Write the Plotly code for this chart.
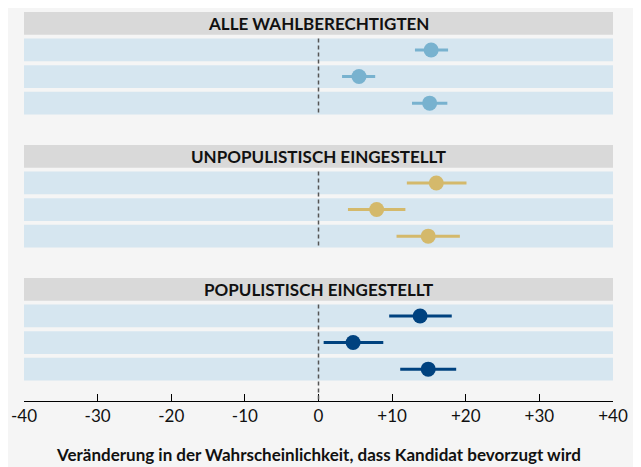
import plotly.graph_objects as go

# Veränderung in der Wahrscheinlichkeit (Prozentpunkte), Punkt + Konfidenzintervall
groups = ['ALLE WAHLBERECHTIGTEN', 'UNPOPULISTISCH EINGESTELLT', 'POPULISTISCH EINGESTELLT']
group_colors = ['#78b2cf', '#d4b96b', '#00427f']

alle_est = [15.3, 5.5, 15.1]
alle_lo = [13.1, 3.2, 12.7]
alle_hi = [17.6, 7.7, 17.5]

unpop_est = [16.0, 7.9, 14.9]
unpop_lo = [12.0, 4.0, 10.6]
unpop_hi = [20.1, 11.8, 19.2]

pop_est = [13.8, 4.7, 14.9]
pop_lo = [9.6, 0.7, 11.1]
pop_hi = [18.1, 8.8, 18.7]

tick_vals = [-40, -30, -20, -10, 0, 10, 20, 30, 40]
tick_text = ['-40', '-30', '-20', '-10', '0', '+10', '+20', '+30', '+40']

series = [
    (alle_est, alle_lo, alle_hi),
    (unpop_est, unpop_lo, unpop_hi),
    (pop_est, pop_lo, pop_hi),
]

BG = '#f5f5f5'
BAND = '#d6e6f0'
HEADER = '#d9d9d9'
HALF = 0.427  # half height of a band, in row units
SLOTS = 5     # header + 3 rows + gap per panel
Y_BOTTOM = 14.197
FONT = 'Lato'

fig = go.Figure()
shapes = []
annotations = []

for g, (name, (est, lo, hi)) in enumerate(zip(groups, series)):
    top = g * SLOTS
    rows = [top + 1 + r for r in range(len(est))]

    # grey header strip with label
    shapes.append(dict(type='rect', xref='paper', yref='y', x0=0, x1=1,
                       y0=top - HALF, y1=top + HALF, fillcolor=HEADER,
                       line=dict(width=0), layer='below'))
    annotations.append(dict(text='<b>' + name + '</b>', xref='paper', yref='y',
                            x=0.5, y=top, showarrow=False,
                            font=dict(size=17, color='#111111', family=FONT)))

    # light blue row bands
    for y in rows:
        shapes.append(dict(type='rect', xref='paper', yref='y', x0=0, x1=1,
                           y0=y - HALF, y1=y + HALF, fillcolor=BAND,
                           line=dict(width=0), layer='below'))

    # dashed zero line per panel (last one runs down to the axis)
    y_end = Y_BOTTOM if g == len(groups) - 1 else rows[-1] + HALF
    shapes.append(dict(type='line', xref='x', yref='y', x0=0, x1=0,
                       y0=rows[0] - HALF, y1=y_end,
                       line=dict(color='#555555', width=1.5, dash='4px,3px')))

    fig.add_trace(go.Scatter(
        x=est, y=rows, mode='markers',
        marker=dict(size=15, color=group_colors[g], line=dict(width=0)),
        error_x=dict(type='data', symmetric=False,
                     array=[h - e for h, e in zip(hi, est)],
                     arrayminus=[e - l for e, l in zip(est, lo)],
                     thickness=3, width=0, color=group_colors[g]),
        showlegend=False, name=name,
    ))

annotations.append(dict(
    text='<b>Veränderung in der Wahrscheinlichkeit, dass Kandidat bevorzugt wird</b>',
    xref='paper', yref='paper', x=0.5, y=-0.138, yanchor='middle',
    showarrow=False, font=dict(size=17, color='#111111', family=FONT)))

# the page puts the figure 8px in from the top-left corner
fig.update_layout(
    width=633, height=459,
    margin=dict(l=16, r=28, t=3, b=66),
    paper_bgcolor=BG, plot_bgcolor=BG,
    font=dict(family=FONT, size=17, color='#111111'),
    shapes=shapes, annotations=annotations,
    xaxis=dict(range=[-40, 40], tickvals=tick_vals, ticktext=tick_text,
               showgrid=False, zeroline=False, showline=True,
               linecolor='black', linewidth=1, ticks='inside', ticklen=7,
               tickcolor='black', tickwidth=1, fixedrange=True),
    yaxis=dict(range=[Y_BOTTOM, -0.464], visible=False, showgrid=False,
               zeroline=False, fixedrange=True),
)

fig.write_html('out.html')
